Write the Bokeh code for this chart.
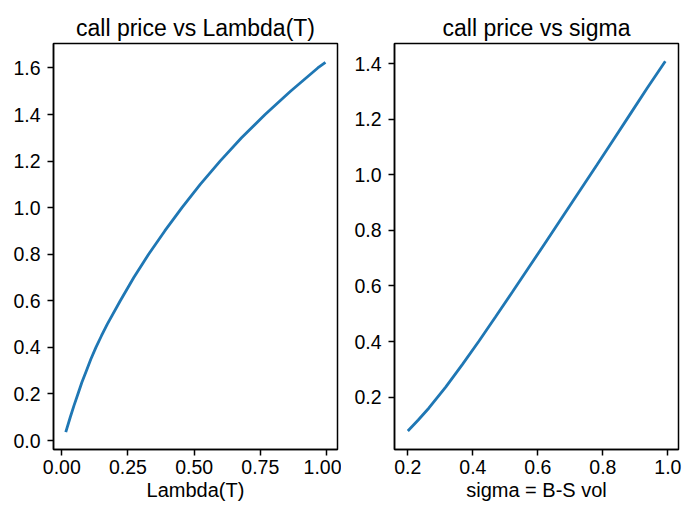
from bokeh.plotting import figure
from bokeh.layouts import row
from bokeh.models import Range1d, FixedTicker, NumeralTickFormatter
from bokeh.embed import file_html
from bokeh.resources import INLINE

# ---- data ----
lambda_T = [0.015, 0.032, 0.046, 0.061, 0.076, 0.093, 0.110, 0.129, 0.150, 0.172,
            0.221, 0.272, 0.328, 0.389, 0.454, 0.523, 0.598, 0.679, 0.768, 0.864,
            0.967, 0.996]
price_vs_lambda = [0.036, 0.100, 0.150, 0.200, 0.250, 0.300, 0.350, 0.400, 0.450, 0.500,
                   0.600, 0.700, 0.800, 0.900, 1.000, 1.100, 1.200, 1.300, 1.400, 1.500,
                   1.600, 1.624]

sigma = [0.200, 0.232, 0.265, 0.317, 0.368, 0.419, 0.470, 0.521, 0.572, 0.621,
         0.680, 0.731, 0.782, 0.833, 0.884, 0.936, 0.992]
price_vs_sigma = [0.078, 0.118, 0.161, 0.237, 0.318, 0.402, 0.489, 0.577, 0.666, 0.752,
                  0.856, 0.946, 1.036, 1.127, 1.218, 1.311, 1.408]

left_xticks = [0.0, 0.25, 0.5, 0.75, 1.0]
left_yticks = [0.0, 0.2, 0.4, 0.6, 0.8, 1.0, 1.2, 1.4, 1.6]
right_xticks = [0.2, 0.4, 0.6, 0.8, 1.0]
right_yticks = [0.2, 0.4, 0.6, 0.8, 1.0, 1.2, 1.4]

titles = ["call price vs Lambda(T)", "call price vs sigma"]
xlabels = ["Lambda(T)", "sigma = B-S vol"]

FONT = "Liberation Sans"
BLUE = "#1f77b4"


def style(p, title, xlabel, xticks, yticks, xfmt, yfmt):
    p.title.text = title
    p.title.text_font = FONT
    p.title.text_font_size = "23px"
    p.title.text_font_style = "normal"
    p.title.align = "center"
    p.title.text_color = "black"
    p.title.standoff = 6
    p.xgrid.visible = False
    p.ygrid.visible = False
    p.outline_line_color = "black"
    p.outline_line_width = 1.5
    p.outline_line_alpha = 1.0
    p.background_fill_color = "white"
    p.border_fill_color = "white"
    for ax in (p.xaxis[0], p.yaxis[0]):
        ax.axis_line_color = "black"
        ax.axis_line_width = 1.5
        ax.major_tick_line_color = "black"
        ax.major_tick_line_width = 1.5
        ax.major_tick_in = 0
        ax.major_tick_out = 6
        ax.minor_tick_line_color = None
        ax.major_label_text_font = FONT
        ax.major_label_text_font_size = "19.5px"
        ax.major_label_text_color = "black"
        ax.axis_label_text_font = FONT
        ax.axis_label_text_font_size = "20px"
        ax.axis_label_text_font_style = "normal"
        ax.axis_label_text_color = "black"
    p.xaxis[0].major_label_standoff = 4
    p.yaxis[0].major_label_standoff = 7
    p.xaxis[0].axis_label = xlabel
    p.xaxis[0].axis_label_standoff = 2
    p.xaxis[0].ticker = FixedTicker(ticks=xticks)
    p.yaxis[0].ticker = FixedTicker(ticks=yticks)
    p.xaxis[0].formatter = NumeralTickFormatter(format=xfmt)
    p.yaxis[0].formatter = NumeralTickFormatter(format=yfmt)


p1 = figure(width=341, height=505, output_backend="svg", toolbar_location=None,
            x_range=Range1d(-0.0313, 1.0415), y_range=Range1d(-0.0386, 1.705),
            min_border_left=53, min_border_right=4, min_border_top=43, min_border_bottom=56)
p1.line(lambda_T, price_vs_lambda, line_color=BLUE, line_width=2.8)
style(p1, titles[0], xlabels[0], left_xticks, left_yticks, "0.00", "0.0")

p2 = figure(width=341, height=505, output_backend="svg", toolbar_location=None,
            x_range=Range1d(0.159, 1.0326), y_range=Range1d(0.0117, 1.472),
            min_border_left=53, min_border_right=4, min_border_top=43, min_border_bottom=56)
p2.line(sigma, price_vs_sigma, line_color=BLUE, line_width=2.8)
style(p2, titles[1], xlabels[1], right_xticks, right_yticks, "0.0", "0.0")

layout = row(p1, p2)
open("out.html", "w").write(file_html(layout, INLINE))
